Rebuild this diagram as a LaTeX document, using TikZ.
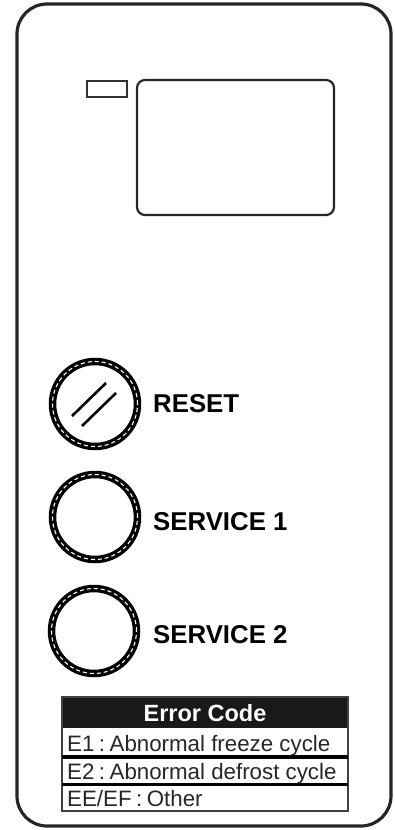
\documentclass[tikz,border=0pt]{standalone}
\usepackage{fontspec}
\setmainfont{Liberation Sans}
\usetikzlibrary{calc}
\begin{document}
\begin{tikzpicture}[x=1pt,y=-1pt,
  frame/.style={draw=black!85, line width=3.2pt, rounded corners=30pt},
  knob/.style={circle, draw=black, line width=7.5pt, minimum size=85pt, inner sep=0pt,
    postaction={draw=white, line width=1.1pt, dash pattern=on 4pt off 3pt}},
  lbl/.style={anchor=west, inner sep=0pt, font=\fontsize{25.8}{30}\selectfont\bfseries},
  rowtxt/.style={anchor=base west, inner sep=0pt, text=black!85, font=\fontsize{22.3}{26}\selectfont},
  sep/.style={line width=3.2pt, black}
]
\useasboundingbox (0,0) rectangle (395,830);
% outer frame
\draw[frame] (17,4) rectangle (391,826);
% LED and display
\draw[line width=2.2pt, draw=black!80] (87,81) rectangle (127,97);
\draw[line width=2.2pt, draw=black!85, rounded corners=8pt] (137,80) rectangle (334,215);
% knobs
\node[knob] (reset) at (95,404) {};
\node[knob] (s1) at (95,517) {};
\node[knob] (s2) at (94,631) {};
\draw[line width=2.6pt] ($(reset.center)+(-23,12)$) -- ($(reset.center)+(11,-21)$);
\draw[line width=2.6pt] ($(reset.center)+(-13,22)$) -- ($(reset.center)+(21,-11)$);
\node[lbl] (lreset) at (153,404) {RESET};
\node[lbl] (ls1) at (153,522) {SERVICE 1};
\node[lbl] (ls2) at (153,635) {SERVICE 2};
% error code table
\fill[black!90] (62,697) rectangle (348,728);
\draw[line width=2.2pt, draw=black!75] (62,697) rectangle (348,811);
\node[inner sep=0pt, anchor=base, text=white, font=\fontsize{23.5}{27}\selectfont\bfseries] (hdr) at (205,721) {Error Code};
\draw[sep] (62,757) -- (348,757);
\draw[sep] (62,784.5) -- (348,784.5);
\node[rowtxt] (r1) at (67,751) {E1\hspace{4.5pt}:\hspace{4.5pt}Abnormal freeze cycle};
\node[rowtxt] (r2) at (67,779) {E2\hspace{4.5pt}:\hspace{4.5pt}Abnormal defrost cycle};
\node[rowtxt] (r3) at (67,806) {EE/EF\hspace{4.5pt}:\hspace{4.5pt}Other};
\end{tikzpicture}
\end{document}
